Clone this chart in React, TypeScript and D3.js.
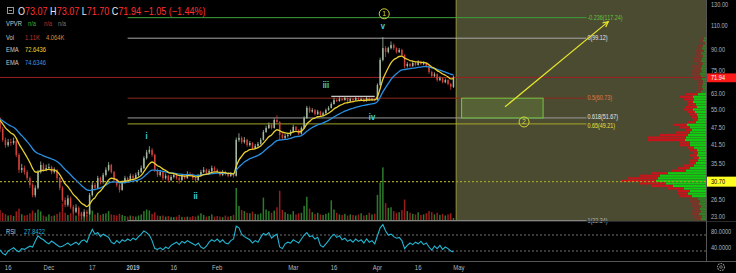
import React from "react";
import * as d3 from "d3";

const W = 736;
const H = 273;
const AXIS_X = 706;
const MAIN_BOTTOM = 221;
const DAY = 86400000;
const START = Date.UTC(2018, 10, 13);
const END = Date.UTC(2019, 6, 31);
const FIRST_OPEN = 51.6;

const closes = [
  47.3, 43.2, 41.4, 42.4, 42.1, 42.8, 38.2, 33.8, 34.3, 33.2,
  31.6, 29.9, 27.5, 29.2, 33.2, 35.2, 33.8, 34.3, 34.6, 33.2,
  33.8, 31.6, 29.2, 26.4, 25.4, 26.8, 25.0, 24.0, 24.8, 23.6,
  23.2, 24.0, 23.6, 27.5, 29.9, 29.2, 31.6, 30.6, 32.4, 33.8,
  35.2, 33.2, 31.1, 29.9, 28.7, 30.6, 31.6, 31.1, 32.2, 31.6,
  32.4, 33.2, 34.3, 37.2, 39.0, 39.8, 38.2, 33.8, 32.4, 33.2,
  31.6, 32.2, 31.1, 31.9, 32.4, 31.6, 31.1, 32.2, 31.6, 32.7,
  32.4, 31.6, 31.1, 32.2, 33.2, 33.8, 33.0, 33.5, 34.3, 33.8,
  33.2, 32.4, 33.2, 32.7, 32.2, 32.7, 32.2, 43.2, 43.9, 42.4,
  43.2, 41.4, 42.1, 40.4, 41.1, 41.8, 43.2, 46.1, 47.6, 48.8,
  47.6, 50.8, 50.0, 45.0, 43.9, 44.6, 45.0, 46.1, 48.0, 46.8,
  45.4, 47.6, 51.6, 56.1, 54.4, 55.1, 53.3, 54.4, 52.9, 53.7,
  55.1, 56.1, 57.9, 59.8, 59.3, 60.3, 59.8, 60.8, 59.3, 60.3,
  59.8, 60.8, 59.8, 60.3, 59.3, 60.8, 59.8, 60.3, 59.8, 67.6,
  83.0, 91.4, 88.6, 91.4, 93.8, 91.4, 88.6, 90.0, 86.4, 79.0,
  80.3, 79.0, 81.0, 79.6, 81.6, 80.3, 81.0, 79.0, 75.2, 72.8,
  73.9, 70.4, 71.5, 69.2, 70.4, 68.2, 66.6, 71.94,
];

const highs = [
  52.0, 48.0, 44.0, 43.5, 43.6, 44.0, 43.2, 38.8, 35.5, 35.0,
  33.8, 32.0, 30.3, 29.8, 33.8, 36.2, 35.8, 35.3, 35.6, 35.0,
  34.5, 34.0, 31.9, 29.6, 27.0, 27.5, 27.2, 25.4, 25.5, 25.1,
  24.0, 24.5, 24.4, 28.0, 30.6, 30.4, 32.2, 32.0, 33.0, 34.5,
  36.0, 35.5, 33.5, 31.5, 30.2, 31.0, 32.2, 32.0, 32.8, 32.6,
  33.0, 33.8, 35.0, 37.8, 39.8, 41.0, 40.4, 38.6, 34.2, 33.8,
  33.5, 32.8, 32.5, 32.4, 33.0, 32.8, 32.0, 32.7, 32.6, 33.4,
  33.2, 32.8, 31.9, 32.7, 33.8, 34.6, 34.2, 34.0, 35.0, 34.8,
  34.2, 33.6, 33.8, 33.6, 33.1, 33.2, 33.0, 44.0, 45.6, 44.4,
  44.2, 43.6, 42.8, 42.4, 41.8, 42.5, 43.9, 46.8, 48.5, 49.8,
  49.3, 51.5, 52.8, 50.3, 45.6, 45.3, 45.8, 46.9, 48.9, 48.4,
  47.2, 48.2, 52.4, 57.0, 56.8, 56.0, 55.6, 55.2, 54.8, 54.4,
  55.8, 56.9, 58.7, 61.0, 60.5, 61.2, 60.9, 61.5, 61.1, 61.0,
  60.8, 61.4, 61.1, 61.0, 60.7, 61.3, 61.1, 60.9, 60.7, 68.5,
  84.5, 100.0, 93.0, 92.5, 96.5, 95.0, 92.0, 91.5, 91.0, 87.0,
  81.5, 81.0, 82.3, 81.8, 82.8, 82.5, 82.0, 81.5, 79.5, 76.0,
  75.0, 74.4, 72.6, 72.0, 71.3, 70.9, 68.8, 73.07,
];

const lows = [
  46.0, 42.5, 40.5, 40.8, 41.2, 41.5, 37.5, 33.0, 33.0, 32.5,
  31.0, 29.2, 27.0, 27.0, 28.8, 32.8, 33.2, 33.4, 33.8, 32.6,
  32.8, 31.0, 28.6, 26.0, 24.9, 25.0, 24.6, 23.6, 23.7, 23.2,
  22.5, 22.9, 23.1, 23.4, 27.2, 28.6, 28.9, 30.0, 30.2, 32.0,
  33.4, 32.8, 30.6, 29.4, 28.1, 28.5, 30.2, 30.6, 30.8, 31.2,
  31.3, 32.0, 32.9, 34.0, 36.8, 38.5, 37.6, 33.2, 31.9, 32.0,
  31.0, 31.2, 30.6, 30.8, 31.5, 31.2, 30.2, 30.9, 31.2, 31.4,
  32.0, 31.1, 30.5, 30.9, 31.9, 32.9, 32.6, 32.7, 33.2, 33.4,
  32.8, 32.0, 32.1, 32.3, 31.8, 31.9, 31.7, 32.0, 42.5, 41.8,
  41.9, 40.8, 40.9, 39.8, 40.0, 40.7, 41.5, 43.0, 45.7, 47.2,
  47.0, 47.3, 49.4, 43.0, 43.2, 43.4, 44.0, 44.6, 45.8, 46.2,
  44.8, 45.1, 47.3, 51.3, 53.8, 53.9, 52.7, 52.9, 52.3, 52.5,
  53.4, 54.8, 55.8, 57.6, 58.8, 59.0, 59.3, 59.5, 58.9, 59.0,
  59.2, 59.5, 59.4, 59.4, 58.9, 59.0, 59.3, 59.4, 59.2, 59.5,
  67.0, 82.0, 85.0, 87.5, 90.5, 90.0, 87.5, 87.8, 85.5, 77.5,
  78.0, 78.0, 78.5, 78.8, 79.2, 79.6, 79.5, 78.2, 74.0, 72.0,
  72.2, 69.5, 69.8, 68.5, 68.6, 67.4, 65.0, 66.0,
];

const volumes = [
  4.0, 3.0, 2.5, 2.0, 2.2, 1.8, 3.5, 4.5, 2.5, 2.0,
  2.2, 2.8, 3.8, 3.0, 4.2, 3.5, 2.0, 1.6, 2.4, 1.8,
  2.0, 2.6, 3.2, 6.5, 3.0, 2.2, 2.8, 3.4, 2.0, 2.6,
  3.2, 2.4, 2.2, 4.5, 3.8, 2.4, 3.0, 2.2, 2.6, 2.8,
  3.6, 2.4, 2.2, 2.0, 2.6, 2.2, 1.8, 1.6, 2.0, 1.8,
  1.6, 2.0, 2.4, 3.6, 4.2, 3.8, 2.6, 3.2, 2.0, 1.8,
  2.0, 1.6, 1.8, 1.5, 1.4, 1.6, 2.2, 1.5, 1.4, 1.6,
  1.4, 1.8, 1.6, 2.0, 2.8, 2.2, 1.6, 1.8, 2.4, 1.6,
  1.8, 1.6, 1.4, 2.0, 1.6, 1.8, 2.2, 12.0, 5.5, 4.0,
  3.6, 3.0, 2.8, 3.4, 2.6, 2.4, 2.8, 8.5, 4.2, 3.6,
  3.0, 3.8, 5.0, 11.0, 4.0, 3.2, 2.6, 2.4, 3.6, 2.4,
  2.8, 3.0, 5.5, 8.8, 4.5, 3.2, 2.6, 3.0, 2.4, 2.2,
  2.6, 3.0, 7.5, 4.2, 3.0, 2.4, 2.2, 2.6, 2.0, 2.4,
  2.2, 2.0, 2.4, 2.8, 2.0, 2.2, 3.0, 2.4, 2.6, 9.5,
  14.0, 19.5, 6.5, 4.8, 5.0, 3.6, 3.0, 3.2, 4.0, 7.8,
  3.6, 3.0, 2.6, 2.4, 3.2, 2.2, 2.4, 2.8, 3.6, 3.2,
  2.4, 3.0, 2.2, 2.6, 2.0, 2.4, 2.8, 1.11,
];

const rsiValues = [
  33, 24, 20, 30, 34, 38, 32, 28, 36, 34,
  38, 42, 40, 55, 68, 62, 58, 52, 48, 55,
  50, 45, 40, 42, 46, 50, 44, 48, 52, 46,
  55, 58, 52, 70, 84, 72, 76, 66, 72, 68,
  64, 52, 48, 56, 50, 58, 54, 60, 56, 62,
  58, 66, 72, 80, 76, 70, 56, 36, 34, 38,
  33, 40, 36, 44, 48, 52, 46, 54, 50, 56,
  52, 48, 44, 50, 40, 36, 42, 52, 58, 54,
  60, 52, 58, 50, 48, 56, 60, 92, 88, 72,
  66, 62, 58, 50, 56, 52, 64, 74, 70, 76,
  62, 68, 72, 40, 36, 48, 52, 50, 58, 54,
  50, 60, 70, 76, 66, 68, 60, 64, 44, 40,
  48, 56, 66, 72, 64, 68, 58, 62, 54, 58,
  52, 60, 54, 58, 50, 60, 52, 56, 48, 68,
  88, 96, 80, 70, 72, 66, 62, 64, 56, 36,
  44, 50, 46, 52, 48, 54, 46, 50, 40, 32,
  42, 36, 44, 34, 40, 36, 30, 27.84,
];

// Visible range volume profile, rows from the top (100) down to the low (22.34)
const vpvrUp = [
  2, 3, 1, 3, 4, 2, 5, 3, 4, 5, 3, 4, 5, 4, 6, 5, 4, 3, 3, 4,
  3, 5, 8, 13, 12, 13, 10, 9, 13, 11, 9, 8, 8, 10, 19, 16, 14, 16, 18, 20,
  21, 16, 16, 12, 9, 8, 9, 7, 8, 10, 12, 16, 20, 38, 46, 48, 50, 40, 33, 22,
  16, 18, 14, 8, 6, 7, 5, 6, 5, 7, 4, 5,
];
const vpvrDown = [
  3, 4, 2, 6, 5, 8, 6, 7, 9, 8, 6, 10, 8, 10, 9, 7, 8, 6, 5, 4,
  5, 6, 12, 14, 10, 6, 8, 12, 10, 8, 7, 6, 5, 8, 14, 10, 7, 14, 28, 38,
  37, 10, 10, 6, 8, 5, 8, 6, 9, 6, 10, 12, 14, 16, 20, 30, 34, 26, 22, 16,
  13, 10, 12, 8, 10, 8, 9, 7, 10, 8, 9, 6,
];
const VP_HIGH = 100;
const VP_LOW = 22.34;
const VALUE_AREA = [22, 62];

const fibLabels = ["-0.236", "0", "0.5", "0.618", "0.65", "1"];
const fibPrices = [117.24, 99.12, 60.73, 51.67, 49.21, 22.34];
const fibLineColors = ["#3f9f3a", "#a8a8a8", "#8e2a1c", "#9a9a9a", "#a6a628", "#8a8a8a"];
const fibTextColors = ["#62c240", "#e6e6e6", "#e07a3a", "#e6e6e6", "#e4e43c", "#b0b0b0"];
const fibTextShift = [2.3, 2.3, 2.3, 1.2, 3.6, 2.3];

const priceTicks = [130, 110, 90, 75, 63, 55, 47.5, 41.5, 35.5, 26.5, 23];
const rsiTicks = [80, 40];
const rsiBands = [70, 30];
const timeTickDates = [
  Date.UTC(2018, 10, 16), Date.UTC(2018, 11, 1), Date.UTC(2018, 11, 17), Date.UTC(2019, 0, 1),
  Date.UTC(2019, 0, 16), Date.UTC(2019, 1, 1), Date.UTC(2019, 2, 1), Date.UTC(2019, 2, 16),
  Date.UTC(2019, 3, 1), Date.UTC(2019, 3, 16), Date.UTC(2019, 4, 1),
];
const timeTickLabels = ["16", "Dec", "17", "2019", "16", "Feb", "Mar", "16", "Apr", "16", "May"];

const waveLabels = ["i", "ii", "iii", "iv", "v"];
const waveDates = [Date.UTC(2019, 0, 6), Date.UTC(2019, 0, 24), Date.UTC(2019, 2, 13), Date.UTC(2019, 2, 30), Date.UTC(2019, 3, 3)];
const wavePrices = [43.5, 26.6, 66, 51.0, 107];

const circleLabels = ["1", "2"];
const circleDates = [Date.UTC(2019, 3, 3, 12), Date.UTC(2019, 4, 25)];
const circlePrices = [121, 50.0];

const ema = (vals: number[], period: number, seed: number) => {
  const k = 2 / (period + 1);
  let prev = seed;
  return vals.map((v) => (prev = prev + k * (v - prev)));
};

const T = ({ x, y, size = 7, fill = "#b2b5be", anchor = "start", sx = 0.8, weight = "normal", children }: any) => (
  <text
    transform={`translate(${x},${y}) scale(${sx},1)`}
    fontSize={size}
    fill={fill}
    textAnchor={anchor}
    fontWeight={weight}
    fontFamily="'Liberation Sans', Arial, sans-serif"
  >
    {children}
  </text>
);

export default function App() {
  const x = d3.scaleUtc().domain([START, END]).range([0, AXIS_X]);
  const y = d3.scaleLog().domain([23, 130]).range([217, 5]);
  const yRsi = d3.scaleLinear().domain([0, 100]).range([263, 223]);
  const yVol = d3.scaleLinear().domain([0, 20]).range([MAIN_BOTTOM, MAIN_BOTTOM - 55]);
  const vpLen = d3.scaleLinear().domain([0, 100]).range([0, 100]);

  const dates = closes.map((_, i) => START + i * DAY);
  const opens = closes.map((_, i) => (i === 0 ? FIRST_OPEN : closes[i - 1]));
  const emaFast = ema(closes, 9, FIRST_OPEN);
  const emaSlow = ema(closes, 21, FIRST_OPEN);

  const line = d3.line<number>().x((_, i) => x(dates[i])).y((d) => y(d)).curve(d3.curveMonotoneX);
  const rsiLine = d3.line<number>().x((_, i) => x(dates[i])).y((d) => yRsi(d));

  const up = "#a3b9a3";
  const down = "#d2403a";
  const bw = 1.5;

  const nRows = vpvrUp.length;
  const vpEdges = d3.range(nRows + 1).map((k) => VP_HIGH * Math.pow(VP_LOW / VP_HIGH, k / nRows));

  const shadeStart = x(Date.UTC(2019, 3, 30));
  const fibStart = x(Date.UTC(2018, 11, 30));
  const fibEnd = x(Date.UTC(2019, 5, 17));
  const boxX0 = x(Date.UTC(2019, 4, 2));
  const boxX1 = x(Date.UTC(2019, 5, 1));
  const arrowFrom = [x(Date.UTC(2019, 4, 18)), y(56.6)];
  const arrowTo = [x(Date.UTC(2019, 5, 25)), y(113.5)];
  const ang = Math.atan2(arrowTo[1] - arrowFrom[1], arrowTo[0] - arrowFrom[0]);
  const ah = 6;
  const head = [
    [arrowTo[0] - ah * Math.cos(ang - 0.45), arrowTo[1] - ah * Math.sin(ang - 0.45)],
    [arrowTo[0], arrowTo[1]],
    [arrowTo[0] - ah * Math.cos(ang + 0.45), arrowTo[1] - ah * Math.sin(ang + 0.45)],
  ];
  const lastClose = closes[closes.length - 1];
  const pocPrice = 30.7;
  const iiiTop = 61.6;

  return (
    <svg width={W} height={H} style={{ position: "absolute", left: 0, top: 0, background: "#000" }}>
      <rect x={0} y={0} width={W} height={H} fill="#000" />

      {/* projection shading */}
      <rect x={shadeStart} y={0} width={AXIS_X - shadeStart} height={MAIN_BOTTOM} fill="#4b4b32" />
      <line x1={shadeStart} x2={shadeStart} y1={0} y2={MAIN_BOTTOM} stroke="#95953f" strokeWidth={1} />

      {/* volume profile */}
      {vpvrUp.map((u, k) => {
        const y0 = y(vpEdges[k]);
        const y1 = y(vpEdges[k + 1]);
        const inVA = k >= VALUE_AREA[0] && k <= VALUE_AREA[1];
        const hgt = Math.max(0.8, y1 - y0 - 0.4);
        const gl = vpLen(u);
        const rl = vpLen(vpvrDown[k]);
        return (
          <g key={"vp" + k} opacity={inVA ? 1 : 0.4}>
            <rect x={AXIS_X - gl} y={y0} width={gl} height={hgt} fill="#11cc11" />
            <rect x={AXIS_X - gl - rl} y={y0} width={rl} height={hgt} fill="#c8141a" />
          </g>
        );
      })}

      {/* volume bars */}
      {volumes.map((v, i) => (
        <rect
          key={"v" + i}
          x={x(dates[i]) - bw / 2}
          y={yVol(v)}
          width={bw}
          height={MAIN_BOTTOM - yVol(v)}
          fill={closes[i] >= opens[i] ? "#2c7a2c" : "#9c1c1c"}
        />
      ))}

      {/* horizontal full-width lines */}
      <line x1={0} x2={AXIS_X} y1={y(lastClose)} y2={y(lastClose)} stroke="#9a2222" strokeWidth={1} />
      <line x1={0} x2={AXIS_X} y1={y(pocPrice)} y2={y(pocPrice)} stroke="#a0a022" strokeWidth={1.2} strokeDasharray="2,2" />

      {/* fib levels */}
      {fibPrices.map((p, i) => (
        <g key={"fib" + i}>
          <line x1={fibStart} x2={fibEnd} y1={y(p)} y2={y(p)} stroke={fibLineColors[i]} strokeWidth={1} />
          <T x={fibEnd + 1} y={y(p) + fibTextShift[i]} size={6.6} fill={fibTextColors[i]} sx={0.82}>
            {`${fibLabels[i]}(${p.toFixed(2)})`}
          </T>
        </g>
      ))}

      {/* iii consolidation top */}
      <line x1={x(Date.UTC(2019, 2, 15))} x2={x(Date.UTC(2019, 2, 31))} y1={y(iiiTop)} y2={y(iiiTop)} stroke="#c8c8c8" strokeWidth={1.2} />

      {/* candles */}
      {closes.map((c, i) => {
        const o = opens[i];
        const col = c >= o ? up : down;
        const cx = x(dates[i]);
        const top = y(Math.max(o, c));
        const bot = y(Math.min(o, c));
        return (
          <g key={"c" + i}>
            <line x1={cx} x2={cx} y1={y(highs[i])} y2={y(lows[i])} stroke={col} strokeWidth={0.8} />
            <rect x={cx - bw / 2} y={top} width={bw} height={Math.max(0.8, bot - top)} fill={col} />
          </g>
        );
      })}

      {/* EMAs */}
      <path d={line(emaSlow) || ""} fill="none" stroke="#2a8fe0" strokeWidth={1.3} />
      <path d={line(emaFast) || ""} fill="none" stroke="#e8d030" strokeWidth={1.3} />

      {/* projection box & arrow */}
      <rect x={boxX0} y={y(fibPrices[2])} width={boxX1 - boxX0} height={y(fibPrices[3]) - y(fibPrices[2])} fill="#566236" stroke="#72c843" strokeWidth={1} />
      <line x1={arrowFrom[0]} y1={arrowFrom[1]} x2={arrowTo[0]} y2={arrowTo[1]} stroke="#e6e62c" strokeWidth={1.2} />
      <polyline points={head.map((p) => p.join(",")).join(" ")} fill="none" stroke="#e6e62c" strokeWidth={1.2} />

      {/* wave labels */}
      {waveLabels.map((l, i) => (
        <T key={"w" + l} x={x(waveDates[i])} y={y(wavePrices[i])} size={8.5} fill="#3fd3e3" anchor="middle" weight="bold" sx={0.9}>
          {l}
        </T>
      ))}
      {circleLabels.map((l, i) => (
        <g key={"cl" + l}>
          <circle cx={x(circleDates[i])} cy={y(circlePrices[i])} r={5} fill="none" stroke="#d2d23a" strokeWidth={1} />
          <T x={x(circleDates[i])} y={y(circlePrices[i]) + 2.5} size={7} fill="#d2d23a" anchor="middle" sx={1}>
            {l}
          </T>
        </g>
      ))}

      {/* legend */}
      <rect x={7.5} y={7.5} width={6} height={6} fill="none" stroke="#bbb" strokeWidth={0.8} />
      <line x1={9} x2={12} y1={10.5} y2={10.5} stroke="#bbb" strokeWidth={0.8} />
      <text transform="translate(18,15) scale(0.86,1)" fontSize={10.5} fontFamily="'Liberation Sans', Arial, sans-serif">
        <tspan fill="#e8e8e8">O</tspan>
        <tspan fill="#ff3030">73.07 </tspan>
        <tspan fill="#e8e8e8">H</tspan>
        <tspan fill="#ff3030">73.07 </tspan>
        <tspan fill="#e8e8e8">L</tspan>
        <tspan fill="#ff3030">71.70 </tspan>
        <tspan fill="#e8e8e8">C</tspan>
        <tspan fill="#ff3030">71.94 −1.05 (−1.44%)</tspan>
      </text>
      <T x={6} y={26} size={6.5} fill="#c8c8c8" sx={0.9}>VPVR</T>
      <T x={28} y={26} size={6.5} fill="#30b030" sx={0.9}>n/a</T>
      <T x={44} y={26} size={6.5} fill="#b83030" sx={0.9}>n/a</T>
      <T x={58} y={26} size={6.5} fill="#777" sx={0.9}>n/a</T>
      <T x={6} y={39.5} size={6.5} fill="#c8c8c8" sx={0.9}>Vol</T>
      <T x={25} y={39.5} size={6.5} fill="#c0342c" sx={0.9}>1.11K</T>
      <T x={46} y={39.5} size={6.5} fill="#d8893a" sx={0.9}>4.064K</T>
      <T x={6} y={52} size={6.5} fill="#c8c8c8" sx={0.9}>EMA</T>
      <T x={25} y={52} size={6.5} fill="#e8d030" sx={0.9}>72.6436</T>
      <T x={6} y={64.5} size={6.5} fill="#c8c8c8" sx={0.9}>EMA</T>
      <T x={25} y={64.5} size={6.5} fill="#3a92e0" sx={0.9}>74.6346</T>

      {/* RSI pane */}
      <line x1={0} x2={W} y1={MAIN_BOTTOM + 0.5} y2={MAIN_BOTTOM + 0.5} stroke="#2a2a2a" />
      {rsiBands.map((b) => (
        <line key={"rb" + b} x1={0} x2={AXIS_X} y1={yRsi(b)} y2={yRsi(b)} stroke="#8a8a8a" strokeWidth={0.8} strokeDasharray="2,2" />
      ))}
      <path d={rsiLine(rsiValues) || ""} fill="none" stroke="#22b5d2" strokeWidth={1.1} />
      <T x={6} y={234} size={6.5} fill="#c8c8c8" sx={0.9}>RSI</T>
      <T x={24} y={234} size={6.5} fill="#22b5d2" sx={0.9}>27.8422</T>

      {/* price axis */}
      <line x1={AXIS_X + 0.5} x2={AXIS_X + 0.5} y1={0} y2={261} stroke="#555" />
      {priceTicks.map((p) => (
        <T key={"pt" + p} x={AXIS_X + 5} y={y(p) + (p === 75 ? 0.6 : 2.2)} size={7} sx={0.8}>
          {p.toFixed(2)}
        </T>
      ))}
      <rect x={AXIS_X + 1} y={y(lastClose) - 4} width={29} height={8.8} fill="#ff1a1a" />
      <T x={AXIS_X + 5} y={y(lastClose) + 2.6} size={7} fill="#fff" sx={0.8}>
        {lastClose.toFixed(2)}
      </T>
      <rect x={AXIS_X + 1} y={y(pocPrice) - 5} width={29} height={10} fill="#ffff22" />
      <T x={AXIS_X + 5} y={y(pocPrice) + 2.4} size={7} fill="#000" sx={0.8}>
        {pocPrice.toFixed(2)}
      </T>
      {rsiTicks.map((r) => (
        <T key={"rt" + r} x={AXIS_X + 5} y={yRsi(r) + 2.5} size={7} sx={0.8}>
          {r.toFixed(4)}
        </T>
      ))}

      {/* time axis */}
      <line x1={0} x2={W} y1={261.5} y2={261.5} stroke="#555" />
      {timeTickDates.map((d, i) => (
        <T key={"tt" + i} x={x(d)} y={270} size={7} anchor="middle" sx={0.85} weight={timeTickLabels[i] === "2019" ? "bold" : "normal"}>
          {timeTickLabels[i]}
        </T>
      ))}
      <circle cx={721} cy={267} r={3.5} fill="none" stroke="#888" strokeWidth={1.2} strokeDasharray="1.6,1" />
      <circle cx={721} cy={267} r={1.3} fill="none" stroke="#888" strokeWidth={0.8} />
    </svg>
  );
}
